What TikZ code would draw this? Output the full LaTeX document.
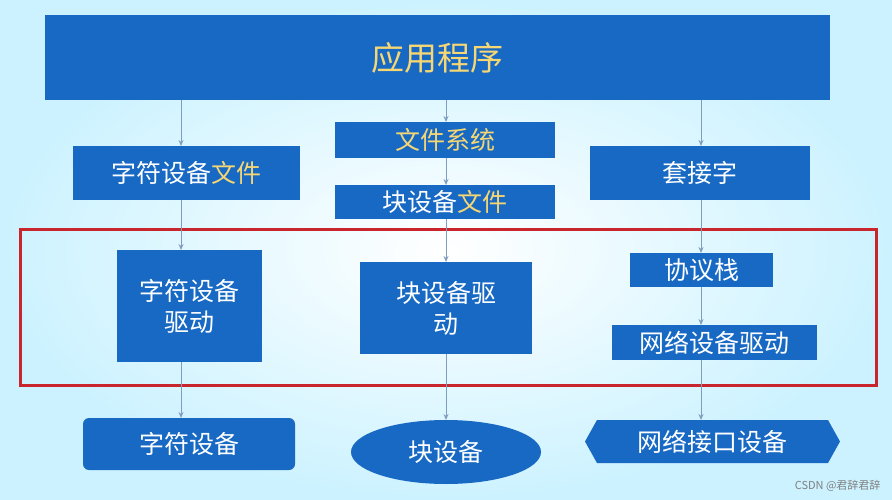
\documentclass[tikz,border=0pt]{standalone}
\usepackage{fontspec}
\setmainfont{Noto Sans CJK SC}
\usetikzlibrary{shapes.geometric,arrows.meta}
\definecolor{bx}{HTML}{1769C4}
\definecolor{yl}{HTML}{F7D774}
\definecolor{ar}{HTML}{7F9DBE}
\definecolor{rd}{HTML}{C8262C}
\tikzset{
  box/.style={fill=bx,draw=none,text=white,font=\fontsize{25}{31}\selectfont,inner sep=0pt,align=center},
  con/.style={draw=ar,line width=1pt,-{Stealth[length=6pt,width=5pt]}},
}
\begin{document}
\begin{tikzpicture}[x=1pt,y=-1pt]
\shade[inner color=white,outer color=blue!25!cyan!20] (0,0) rectangle (892,500);
\useasboundingbox (0,0) rectangle (892,500);
\node[box,minimum width=785,minimum height=85,text=yl,font=\fontsize{33}{36}\selectfont] (app) at (437.5,57.5) {应用程序};
\node[box,minimum width=227,minimum height=54] (cf) at (186.5,173) {字符设备\textcolor{yl}{文件}};
\node[box,minimum width=220,minimum height=36,text=yl] (fs) at (445,140) {文件系统};
\node[box,minimum width=220,minimum height=34] (bf) at (445,202) {块设备\textcolor{yl}{文件}};
\node[box,minimum width=220,minimum height=54] (sk) at (700,173) {套接字};
\draw[rd,line width=3pt] (20,229) rectangle (876,385);
\node[box,minimum width=145,minimum height=112] (cd) at (189.5,306) {字符设备\\驱动};
\node[box,minimum width=172,minimum height=92] (bd) at (446,308) {块设备驱\\动};
\node[box,minimum width=143,minimum height=34] (ps) at (701.5,270) {协议栈};
\node[box,minimum width=205,minimum height=35] (nd) at (714.5,342.5) {网络设备驱动};
\node[box,rounded corners=6pt,minimum width=212,minimum height=52] (cdev) at (189,444) {字符设备};
\node[box,ellipse,minimum width=190,minimum height=64] (bdev) at (446,452) {块设备};
\fill[bx] (585,441.5) -- (597,420) -- (828,420) -- (840,441.5) -- (828,463) -- (597,463) -- cycle;
\node[box,fill=none] (ndev) at (712.5,441.5) {网络接口设备};
\draw[con] (181,100) -- (181,146);
\draw[con] (181,200) -- (181,250);
\draw[con] (181,362) -- (181,418);
\draw[con] (446,100) -- (446,122);
\draw[con] (446,158) -- (446,185);
\draw[con] (446,219) -- (446,262);
\draw[con] (446,354) -- (446,420);
\draw[con] (701,100) -- (701,146);
\draw[con] (701,200) -- (701,253);
\draw[con] (701,287) -- (701,325);
\draw[con] (701,360) -- (701,420);
\node[text=gray,font=\fontsize{11}{12}\selectfont,anchor=east] (wm) at (884,486) {CSDN @君辞君辞};
\end{tikzpicture}
\end{document}
